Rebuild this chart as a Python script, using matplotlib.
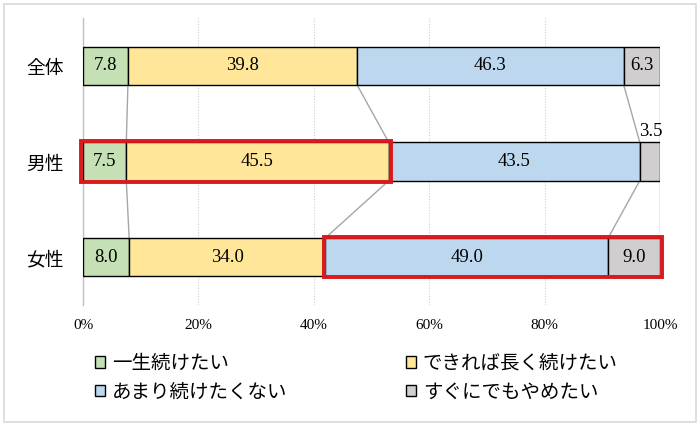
import matplotlib
matplotlib.use("Agg")
import matplotlib.pyplot as plt
from matplotlib.patches import Patch, Rectangle
import numpy as np

plt.rcParams['font.family'] = ['Noto Sans CJK JP', 'DejaVu Sans']

categories = ["全体", "男性", "女性"]
series_names = ["一生続けたい", "できれば長く続けたい", "あまり続けたくない", "すぐにでもやめたい"]
values = {
    "一生続けたい": [7.8, 7.5, 8.0],
    "できれば長く続けたい": [39.8, 45.5, 34.0],
    "あまり続けたくない": [46.3, 43.5, 49.0],
    "すぐにでもやめたい": [6.3, 3.5, 9.0],
}
colors = ["#C5E0B4", "#FFE699", "#BDD7EE", "#D0CECE"]
tick_labels = ["0%", "20%", "40%", "60%", "80%", "100%"]

raw = np.array([values[s] for s in series_names])  # shape (4, 3)
norm = raw / raw.sum(axis=0) * 100
cum = np.cumsum(norm, axis=0)
left = cum - norm

fig = plt.figure(figsize=(7, 4.26), dpi=100)
ax = fig.add_axes([83/700, 1-305/426, (660-83)/700, (305-18)/426])

h = 0.4
y = np.arange(len(categories))
for k, s in enumerate(series_names):
    ax.barh(y, norm[k], left=left[k], height=h, color=colors[k],
            edgecolor="black", linewidth=1.0, zorder=3, label=s)

# value labels
serif = ['Liberation Serif', 'DejaVu Serif']
for k, s in enumerate(series_names):
    for i in range(len(categories)):
        v = raw[k, i]
        cx = left[k, i] + norm[k, i] / 2
        if norm[k, i] < 5:
            ax.text(cum[k, i] + 0.4, i - h/2 - 0.02, f"{v:.1f}", ha="right", va="bottom",
                    fontsize=13.5, family=serif, zorder=5)
        else:
            ax.text(cx, i, f"{v:.1f}", ha="center", va="center",
                    fontsize=13.5, family=serif, zorder=5)

# series lines
for i in range(len(categories) - 1):
    for k in range(len(series_names)):
        ax.plot([cum[k, i], cum[k, i+1]], [i + h/2, i + 1 - h/2],
                color="#A6A6A6", linewidth=1.0, zorder=2)

# red highlight rectangles
pad_x = 0.3
pad_y = 0.012
ax.add_patch(Rectangle((left[0, 1] - pad_x, 1 - h/2 - pad_y), cum[1, 1] - left[0, 1] + 2*pad_x,
                       h + 2*pad_y, fill=False, edgecolor="#D9191C", linewidth=2.8,
                       zorder=6, clip_on=False))
ax.add_patch(Rectangle((left[2, 2] - pad_x, 2 - h/2 - pad_y), cum[3, 2] - left[2, 2] + 2*pad_x,
                       h + 2*pad_y, fill=False, edgecolor="#D9191C", linewidth=2.8,
                       zorder=6, clip_on=False))

ax.set_xlim(0, 100)
ax.set_ylim(2.5, -0.5)
ax.set_xticks([0, 20, 40, 60, 80, 100])
ax.set_xticklabels(tick_labels, family=serif, fontsize=11)
ax.set_yticks(y)
ax.set_yticklabels(categories, fontsize=13.5)
ax.tick_params(axis="both", length=0)
ax.tick_params(axis="x", pad=10)
ax.tick_params(axis="y", pad=14)
for sp in ["top", "right", "bottom"]:
    ax.spines[sp].set_visible(False)
ax.spines["left"].set_color("#BFBFBF")
ax.spines["left"].set_linewidth(1.0)
ax.xaxis.grid(True, linestyle=(0, (1, 1.5)), color="#D0D0D0", linewidth=0.8, zorder=0)
ax.set_axisbelow(True)

handles = [Patch(facecolor=colors[k], edgecolor="black", linewidth=1.0) for k in range(4)]
order = [0, 2, 1, 3]
leg = fig.legend([handles[o] for o in order], [series_names[o] for o in order],
                 ncol=2, loc="upper left", bbox_to_anchor=(95/700, 1-353/426),
                 frameon=False, fontsize=14, handlelength=0.52, handleheight=0.52,
                 handletextpad=0.35, columnspacing=6.1, labelspacing=0.38,
                 borderaxespad=0, borderpad=0)

fig.patches.append(Rectangle((4/700, 4/426), 692/700, 418/426, transform=fig.transFigure,
                             fill=False, edgecolor="#D9D9D9", linewidth=1.2))

fig.savefig("out.png", dpi=100)
